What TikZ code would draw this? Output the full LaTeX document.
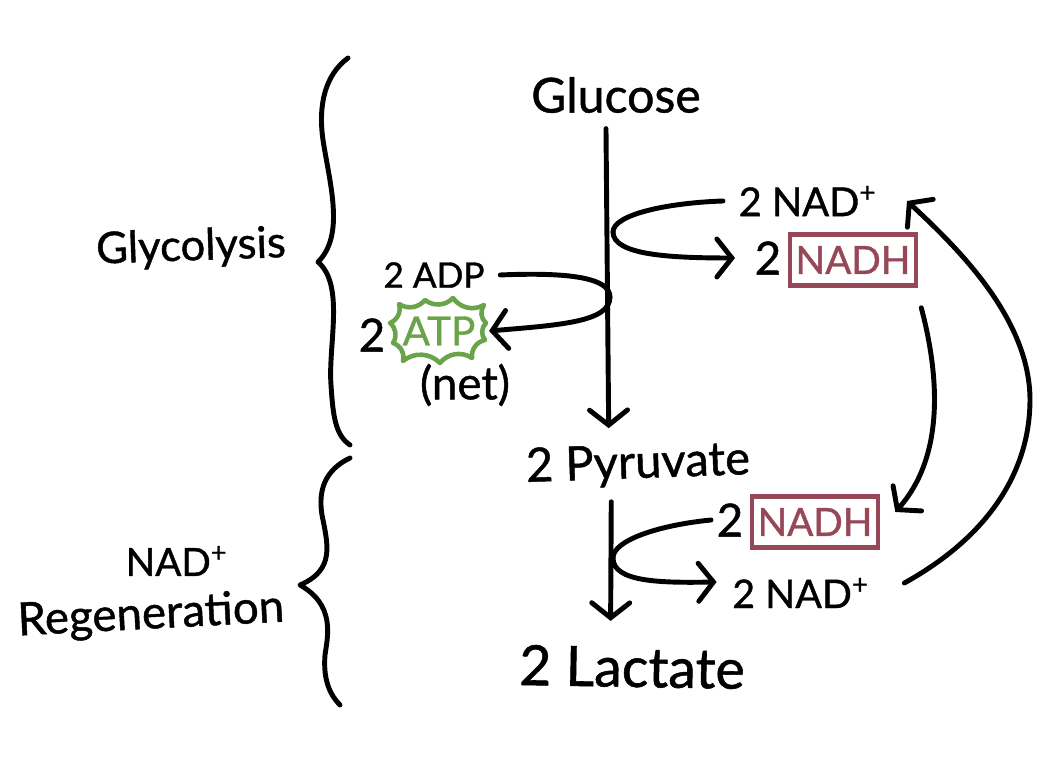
\documentclass[tikz,border=0pt]{standalone}
\usepackage{fontspec}
\usepackage{xcolor}
\setmainfont{Lato}[RawFeature={embolden=1.0}]
\usetikzlibrary{arrows.meta, positioning}
\definecolor{nadhred}{RGB}{150,72,88}
\definecolor{atpgreen}{RGB}{106,164,74}

\tikzset{
    label/.style={font=\fontsize{#1}{#1}\selectfont, inner sep=1.5mm},
    label/.default=13,
    line/.style={line width=1.4pt, line cap=round, line join=round},
    flow/.style={line, -{Straight Barb[length=1.5mm, width=3.8mm, line cap=round]}},
    nadhbox/.style={draw=nadhred, line width=1.3pt, text=nadhred, font=\fontsize{11}{11}\selectfont,
        minimum width=1.26cm, minimum height=0.51cm, inner sep=0pt}
}

\begin{document}
\begin{tikzpicture}[x=0.01cm, y=-0.01cm]
    \useasboundingbox (0,0) rectangle (1044,764);

    % Main pathway
    \node[label=13.7] (glucose) at (616,95) {Glucose};
    \node[label=13.4, rotate=2] (pyruvate) at (638,465) {2 Pyruvate};
    \node[label=15.8, rotate=-1] (lactate) at (632,667) {2 Lactate};
    \draw[flow] ([xshift=-0.1cm]glucose.south) -- ([xshift=-0.28cm]pyruvate.north);
    \draw[flow] ([xshift=-0.28cm]pyruvate.south) -- ([xshift=-0.22cm, yshift=0.1cm]lactate.north);

    % Side labels
    \node[label=12.4, rotate=2] (glycolysis) at (191,248) {Glycolysis};
    \node[label=11, inner sep=0pt] (nadplus) at (177,561) {NAD\textsuperscript{+}};
    \node[label=13, inner sep=0pt, rotate=3] (regen) at (151,616) {Regeneration};

    % Top reaction
    \node[label=11.3] (nadA) at (808,201) {2 NAD\textsuperscript{+}};
    \node[nadhbox] (nadhA) at (853,260) {NADH};
    \node[label, inner sep=0.5mm] (twoA) at (768,258) {2};
    \coordinate (turnA) at (613,232);
    \draw[line] (nadA.west) .. controls (665,203) and (613,215) .. (turnA);
    \draw[flow] (turnA) .. controls (613,255) and (670,258) .. ([xshift=-0.14cm]twoA.west);

    % ATP reaction
    \node[label=10] (adp) at (434,275) {2 ADP};
    \node[label=11.5, text=atpgreen] (atp) at (439,331) {ATP};
    \node[label, inner sep=0.5mm] (twoB) at (372,335) {2};
    \node[label=13] (net) at (465,385) {(net)};
    \draw[atpgreen, line, line width=1.3pt] (399,304) to[bend right=42] (425,300) to[bend right=42] (453,298)
        to[bend right=42] (484,305) to[bend right=42] (486,323) to[bend right=42] (485,340)
        to[bend right=42] (472,358) to[bend right=42] (440,363) to[bend right=42] (403,361)
        to[bend right=42] (393,343) to[bend right=42] (390,323) to[bend right=42] cycle;
    \coordinate (turnB) at (610,297);
    \draw[line] (adp.east) .. controls (570,272) and (610,278) .. (turnB);
    \draw[flow] (turnB) .. controls (610,322) and (560,325) .. ([xshift=-0.02cm]atp.east);

    % Lower reaction
    \node[nadhbox] (nadhB) at (815,522) {NADH};
    \node[label, inner sep=0.5mm] (twoC) at (730,520) {2};
    \node[label=11.2] (nadB) at (801,593) {2 NAD\textsuperscript{+}};
    \coordinate (turnC) at (613,558);
    \draw[line] (twoC.west) .. controls (660,525) and (613,540) .. (turnC);
    \draw[flow] (turnC) .. controls (613,582) and (660,583) .. ([yshift=0.11cm]nadB.west);

    % Recycling arrows
    \draw[flow] ([xshift=0.03cm, yshift=-0.2cm]nadhA.south east) .. controls (935,360) and (950,450) .. ([xshift=0.15cm, yshift=0.1cm]nadhB.east);
    \draw[flow] ([xshift=0.19cm, yshift=0.1cm]nadB.east) .. controls (1000,530) and (1030,460) .. (1030,400) .. controls (1030,320) and (960,250) .. ([xshift=0.14cm]nadA.east);

    % Braces
    \draw[line] (348,58) .. controls (325,75) and (318,105) .. (323,140) .. controls (330,185) and (345,235) .. (318,262)
        .. controls (345,285) and (328,345) .. (331,385) .. controls (333,415) and (335,435) .. (350,445);
    \draw[line] (350,458) .. controls (325,470) and (318,490) .. (322,515) .. controls (328,545) and (335,570) .. (300,585)
        .. controls (335,605) and (328,635) .. (325,655) .. controls (323,680) and (330,695) .. (340,705);
\end{tikzpicture}
\end{document}
